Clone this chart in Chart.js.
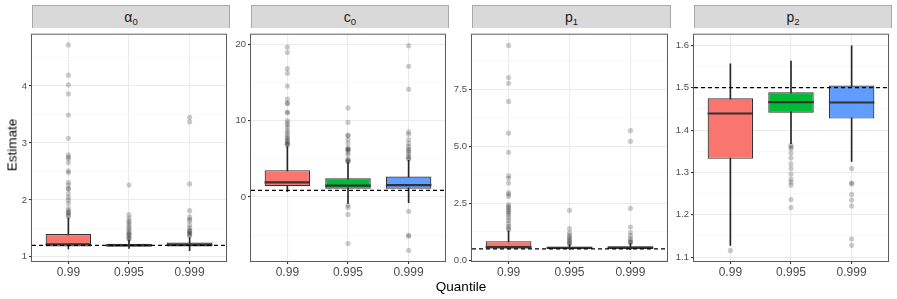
<!DOCTYPE html>
<html>
<head>
<meta charset="utf-8">
<script src="https://cdn.jsdelivr.net/npm/chart.js@4.4.1/dist/chart.umd.min.js"></script>
<style>
  body { margin: 0; background: #fff; font-family: "Liberation Sans", Arial, sans-serif; }
  #wrap { position: relative; width: 897px; height: 299px; overflow: hidden; }
  canvas { position: absolute; top: 27px; }
  .strip { position: absolute; top: 5px; height: 23px; box-sizing: border-box; background: #d9d9d9;
           border: 1px solid #a8a8a8; border-bottom: none; text-align: center; font-size: 14px;
           font-weight: 400; line-height: 22px; color: #1a1a1a; }
  .strip sub { font-size: 9.5px; vertical-align: -3px; line-height: 0; }
  #ylab { position: absolute; left: 12px; top: 145px; transform: translate(-50%, -50%) rotate(-90deg);
          font-size: 13.5px; font-weight: 400; color: #000; white-space: nowrap; }
  #xlab { position: absolute; left: 461px; top: 286px; transform: translate(-50%, -50%);
          font-size: 13.5px; font-weight: 400; color: #000; }
</style>
</head>
<body>
<div id="wrap">
  <div class="strip" style="left:32px;width:198px">α<sub>0</sub></div>
  <div class="strip" style="left:251px;width:198px">c<sub>0</sub></div>
  <div class="strip" style="left:472px;width:199px">p<sub>1</sub></div>
  <div class="strip" style="left:694px;width:198px">p<sub>2</sub></div>
  <canvas id="c1" width="230" height="254" style="left:0px"></canvas>
  <canvas id="c2" width="230" height="254" style="left:219px"></canvas>
  <canvas id="c3" width="231" height="254" style="left:440px"></canvas>
  <canvas id="c4" width="230" height="254" style="left:662px"></canvas>
  <div id="ylab">Estimate</div>
  <div id="xlab">Quantile</div>
</div>
<script>
const quantiles = ['0.99', '0.995', '0.999'];
const fills = ['#F8766D', '#00BA38', '#619CFF'];

// box stats per quantile: [lower whisker, q1, median, q3, upper whisker]
const alpha0Box = [[1.14, 1.18, 1.22, 1.40, 1.68], [1.15, 1.18, 1.20, 1.23, 1.30], [1.11, 1.18, 1.21, 1.25, 1.34]];
const alpha0Out = [
  [4.72, 4.19, 4.02, 3.86, 3.49, 3.08, 2.79, 2.75, 2.72, 2.65, 2.51, 2.48, 2.31, 2.26, 2.20, 2.19, 2.11, 2.05, 2.00, 1.94, 1.85, 1.81, 1.78, 1.77, 1.73, 1.71],
  [2.26, 1.74, 1.68, 1.63, 1.60, 1.56, 1.52, 1.49, 1.45, 1.42, 1.40, 1.38, 1.35, 1.32, 1.31],
  [3.45, 3.37, 2.28, 1.81, 1.70, 1.66, 1.63, 1.56, 1.51, 1.47, 1.45, 1.43, 1.41, 1.39, 1.37]
];
const alpha0True = 1.2;

const c0Box = [[0.7, 1.4, 1.9, 3.5, 6.6], [-0.85, 1.06, 1.48, 2.45, 4.5], [-0.76, 1.06, 1.53, 2.67, 4.8]];
const c0Out = [
  [19.6, 18.9, 16.8, 16.2, 14.5, 12.8, 12.3, 12.2, 11.1, 11.0, 10.0, 9.7, 9.4, 9.1, 8.7, 8.4, 8.1, 7.8, 7.6, 7.4, 7.2, 7.0, 6.9, 6.8],
  [11.65, 9.75, 8.1, 8.0, 7.5, 7.0, 6.4, 6.3, 6.2, 6.1, 5.8, 5.5, 4.9, 4.8, 4.7, 4.6, -1.1, -1.4, -2.3, -6.1],
  [19.8, 17.1, 14.1, 8.5, 8.2, 7.5, 7.0, 6.6, 6.3, 6.1, 5.9, 5.6, 5.3, 5.1, 4.95, -1.9, -5.0, -5.15, -7.0]
];
const c0True = 0.85;

const p1Box = [[0.5, 0.52, 0.58, 0.84, 1.29], [0.48, 0.52, 0.55, 0.60, 0.70], [0.47, 0.52, 0.55, 0.62, 0.75]];
const p1Out = [
  [9.43, 8.02, 7.77, 6.97, 5.58, 4.74, 3.71, 3.60, 3.39, 2.97, 2.90, 2.80, 2.45, 2.37, 2.30, 2.22, 2.15, 2.07, 1.99, 1.86, 1.75, 1.62, 1.50, 1.42, 1.35],
  [2.19, 1.39, 1.20, 1.10, 1.02, 0.95, 0.88, 0.82, 0.76, 0.72],
  [5.69, 5.22, 2.28, 1.46, 1.22, 1.08, 0.95, 0.86, 0.80, 0.78]
];
const p1True = 0.5;

const p2Box = [[1.128, 1.332, 1.439, 1.475, 1.556], [1.368, 1.441, 1.466, 1.489, 1.563], [1.326, 1.427, 1.465, 1.505, 1.599]];
const p2Out = [
  [1.116],
  [1.364, 1.360, 1.356, 1.345, 1.334, 1.320, 1.309, 1.296, 1.284, 1.277, 1.270, 1.236, 1.217],
  [1.309, 1.275, 1.273, 1.248, 1.235, 1.221, 1.143, 1.128]
];
const p2True = 1.5;

// y ticks
const alpha0Ticks = [1, 2, 3, 4], alpha0Minor = [1.5, 2.5, 3.5, 4.5], alpha0Labels = ['1', '2', '3', '4'];
const c0Ticks = [0, 10, 20], c0Minor = [-5, 5, 15], c0Labels = ['0', '10', '20'];
const p1Ticks = [0, 2.5, 5, 7.5], p1Minor = [1.25, 3.75, 6.25, 8.75], p1Labels = ['0.0', '2.5', '5.0', '7.5'];
const p2Ticks = [1.1, 1.2, 1.3, 1.4, 1.5, 1.6], p2Minor = [1.15, 1.25, 1.35, 1.45, 1.55], p2Labels = ['1.1', '1.2', '1.3', '1.4', '1.5', '1.6'];

Chart.defaults.font.family = '"Liberation Sans", Arial, sans-serif';

const frame = {
  id: 'frame',
  afterDraw(chart) {
    const a = chart.chartArea, g = chart.ctx;
    g.save();
    g.strokeStyle = '#5c5c5c';
    g.lineWidth = 1;
    g.strokeRect(a.left - 0.5, a.top - 0.5, a.right - a.left + 1, a.bottom - a.top + 1);
    g.restore();
  }
};

function panel(id, box, out, truth, yMin, yMax, major, minor, labels) {
  const halfBox = (ctx) => {
    const s = ctx.chart.scales.x;
    return s.getPixelForValue(1.375) - s.getPixelForValue(1);
  };
  new Chart(document.getElementById(id), {
    type: 'bar',
    data: {
      datasets: [
        {
          type: 'line', data: [{ x: 0.4, y: truth }, { x: 3.6, y: truth }],
          borderColor: '#000', borderWidth: 1.2, borderDash: [4, 3], pointRadius: 0, order: 0
        },
        {
          type: 'line', showLine: false, data: box.map((b, i) => ({ x: i + 1, y: b[2] })),
          pointStyle: 'line', pointRadius: halfBox, pointBorderColor: '#333', pointBorderWidth: 2.2, order: 1
        },
        {
          data: box.map((b, i) => ({ x: i + 1, y: [b[1], b[3]] })),
          backgroundColor: fills, borderColor: '#333', borderWidth: 1.2, borderSkipped: false,
          grouped: false, categoryPercentage: 0.75, barPercentage: 1, order: 2
        },
        {
          data: box.map((b, i) => ({ x: i + 1, y: [b[0], b[4]] })),
          backgroundColor: '#262626', barThickness: 1, grouped: false, order: 3
        },
        {
          type: 'line', showLine: false,
          data: out.flatMap((o, i) => o.map(v => ({ x: i + 1, y: v }))),
          pointRadius: 2.6, pointBackgroundColor: 'rgba(0,0,0,0.2)', pointBorderWidth: 0, order: 4
        }
      ]
    },
    options: {
      responsive: false,
      animation: false,
      devicePixelRatio: 1,
      layout: { padding: { top: 1, right: 1, left: 0, bottom: 0 } },
      plugins: { legend: { display: false }, tooltip: { enabled: false } },
      scales: {
        x: {
          type: 'linear', min: 0.4, max: 3.6, offset: false,
          afterBuildTicks: s => { s.ticks = [1, 2, 3].map(v => ({ value: v })); },
          afterFit: s => { s.height = 20; },
          ticks: {
            callback: v => quantiles[v - 1], color: '#4d4d4d', font: { size: 12 },
            padding: 1, maxRotation: 0, autoSkip: false
          },
          grid: { color: '#ebebeb', lineWidth: 1.1, tickLength: 3, tickColor: '#333', offset: false },
          border: { display: false }
        },
        y: {
          min: yMin, max: yMax,
          afterBuildTicks: s => { s.ticks = major.concat(minor).sort((a, b) => a - b).map(v => ({ value: v })); },
          afterFit: s => { s.width = 32; },
          ticks: {
            callback: v => { const k = major.indexOf(v); return k < 0 ? '' : labels[k]; },
            color: '#4d4d4d', font: { size: 9.5 }, padding: 2, autoSkip: false
          },
          grid: {
            color: c => major.includes(c.tick.value) ? '#ebebeb' : '#f3f3f3',
            lineWidth: c => major.includes(c.tick.value) ? 1.1 : 0.6,
            tickColor: c => major.includes(c.tick.value) ? '#333' : 'rgba(0,0,0,0)',
            tickLength: 3
          },
          border: { display: false }
        }
      }
    },
    plugins: [frame]
  });
}

panel('c1', alpha0Box, alpha0Out, alpha0True, 0.927, 4.90, alpha0Ticks, alpha0Minor, alpha0Labels);
panel('c2', c0Box, c0Out, c0True, -8.39, 21.23, c0Ticks, c0Minor, c0Labels);
panel('c3', p1Box, p1Out, p1True, -0.03, 9.90, p1Ticks, p1Minor, p1Labels);
panel('c4', p2Box, p2Out, p2True, 1.091, 1.625, p2Ticks, p2Minor, p2Labels);
</script>
</body>
</html>
